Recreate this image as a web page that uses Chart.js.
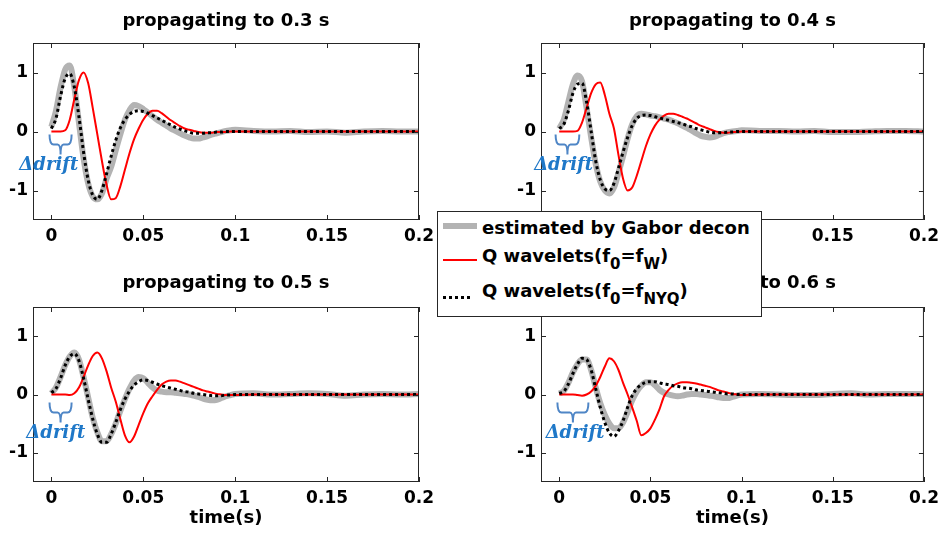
<!DOCTYPE html>
<html>
<head>
<meta charset="utf-8">
<script src="https://cdn.jsdelivr.net/npm/chart.js@4.4.1/dist/chart.umd.min.js"></script>
<style>
  body { margin: 0; background: #fff; width: 945px; height: 533px; position: relative; overflow: hidden; font-family: "DejaVu Sans", sans-serif; }
  canvas { position: absolute; }
  #legend { position: absolute; left: 437px; top: 211px; width: 323px; height: 104px; border: 1px solid #262626; background: #fff; z-index: 5; }
  #legend .txt { position: absolute; left: 44px; font-weight: bold; font-size: 18px; line-height: 22px; color: #000; white-space: nowrap; }
  #legend sub { font-size: 15px; vertical-align: -7px; line-height: 0; }
  #legend .sw { position: absolute; left: 5px; width: 34px; }
</style>
</head>
<body>
<canvas id="c1" width="470" height="260" style="left:0;top:0"></canvas>
<canvas id="c2" width="475" height="260" style="left:470px;top:0"></canvas>
<canvas id="c3" width="470" height="273" style="left:0;top:260px"></canvas>
<canvas id="c4" width="475" height="273" style="left:470px;top:260px"></canvas>
<div id="legend">
  <div class="sw" style="top:11px;height:6px;background:#b3b3b3"></div>
  <div class="txt" style="top:5px">estimated by Gabor decon</div>
  <div class="sw" style="top:47px;height:2px;background:#ff0000"></div>
  <div class="txt" style="top:33px">Q wavelets(f<sub>0</sub>=f<sub>W</sub>)</div>
  <div class="sw" style="top:84px;height:3px;width:30px;background:repeating-linear-gradient(to right,#000 0 3px,transparent 3px 6px)"></div>
  <div class="txt" style="top:68px">Q wavelets(f<sub>0</sub>=f<sub>NYQ</sub>)</div>
</div>
<script>
// sample times (s): fine up to 0.1, coarse after
const time = [0, 0.0025, 0.005, 0.0075, 0.01, 0.0125, 0.015, 0.0175, 0.02, 0.0225,
  0.025, 0.0275, 0.03, 0.0325, 0.035, 0.0375, 0.04, 0.0425, 0.045, 0.0475,
  0.05, 0.0525, 0.055, 0.0575, 0.06, 0.0625, 0.065, 0.0675, 0.07, 0.0725,
  0.075, 0.0775, 0.08, 0.0825, 0.085, 0.0875, 0.09, 0.0925, 0.095, 0.0975,
  0.1, 0.11, 0.12, 0.13, 0.14, 0.15, 0.16, 0.17, 0.18, 0.19, 0.2];
const xTicks = [0, 0.05, 0.1, 0.15, 0.2];
const yTicks = [-1, 0, 1];
const titles = ['propagating to 0.3 s', 'propagating to 0.4 s', 'propagating to 0.5 s', 'propagating to 0.6 s'];
const seriesNames = ['estimated by Gabor decon', 'Q wavelets(f0=fW)', 'Q wavelets(f0=fNYQ)'];

// 0.3 s
const gabor03 = [0.08, 0.35, 0.75, 1.05, 1.12, 0.75, 0.15, -0.45, -0.88, -1.1, -1.15, -1.05, -0.8, -0.6, -0.32, -0.05, 0.2, 0.36, 0.45, 0.43, 0.38, 0.32, 0.26, 0.2, 0.15, 0.1, 0.05, 0.01, -0.03, -0.07, -0.1, -0.12, -0.12, -0.1, -0.08, -0.05, -0.03, -0.01, 0.01, 0.02, 0.03, 0.01, 0, 0.01, -0.01, 0, -0.02, 0, 0.01, 0, 0];
const qw03 = [0, 0, 0, 0.02, 0.2, 0.55, 0.87, 1.0, 0.82, 0.4, -0.05, -0.5, -0.9, -1.15, -1.13, -0.93, -0.65, -0.37, -0.13, 0.05, 0.2, 0.3, 0.35, 0.35, 0.31, 0.25, 0.19, 0.14, 0.09, 0.05, 0.03, 0.01, -0.01, -0.02, -0.02, -0.02, -0.01, -0.01, -0.01, 0, 0, 0, 0, 0, 0, 0, 0, 0, 0, 0, 0];
const qnyq03 = [0.05, 0.22, 0.6, 0.9, 0.98, 0.75, 0.25, -0.35, -0.82, -1.08, -1.15, -1.0, -0.72, -0.42, -0.15, 0.06, 0.2, 0.29, 0.34, 0.35, 0.34, 0.31, 0.27, 0.23, 0.19, 0.15, 0.11, 0.07, 0.04, 0.01, -0.01, -0.03, -0.03, -0.03, -0.02, -0.02, -0.01, -0.01, 0, 0, 0, 0, 0, 0, 0, 0, 0, 0, 0, 0, 0];
// 0.4 s
const gabor04 = [0.05, 0.2, 0.5, 0.8, 0.95, 0.85, 0.4, -0.1, -0.55, -0.85, -1.0, -1.05, -0.95, -0.7, -0.42, -0.12, 0.12, 0.26, 0.3, 0.29, 0.27, 0.26, 0.24, 0.22, 0.2, 0.17, 0.14, 0.1, 0.06, 0.02, -0.03, -0.07, -0.09, -0.1, -0.09, -0.06, -0.03, -0.01, 0, 0.01, 0.02, 0.01, 0.01, 0, 0.01, -0.01, -0.01, 0, 0.01, 0.01, 0];
const qw04 = [0, 0, 0, 0, 0.01, 0.15, 0.4, 0.65, 0.8, 0.83, 0.62, 0.3, 0.05, -0.4, -0.8, -1.0, -0.95, -0.75, -0.5, -0.25, -0.05, 0.1, 0.2, 0.27, 0.3, 0.3, 0.28, 0.25, 0.22, 0.18, 0.14, 0.1, 0.07, 0.04, 0.01, -0.01, -0.02, -0.02, -0.01, -0.01, 0, 0, 0, 0, 0, 0, 0, 0, 0, 0, 0];
const qnyq04 = [0.05, 0.12, 0.35, 0.65, 0.8, 0.82, 0.5, 0, -0.5, -0.82, -0.97, -1.0, -0.88, -0.62, -0.35, -0.1, 0.1, 0.22, 0.27, 0.28, 0.27, 0.25, 0.23, 0.21, 0.19, 0.17, 0.15, 0.13, 0.1, 0.08, 0.05, 0.03, 0.01, -0.01, -0.02, -0.02, -0.02, -0.01, -0.01, 0, 0, 0, 0, 0, 0, 0, 0, 0, 0, 0, 0];
// 0.5 s
const gabor05 = [0.02, 0.12, 0.3, 0.5, 0.65, 0.72, 0.6, 0.3, -0.05, -0.4, -0.65, -0.8, -0.8, -0.68, -0.5, -0.28, -0.08, 0.1, 0.24, 0.3, 0.28, 0.2, 0.12, 0.07, 0.05, 0.04, 0.04, 0.03, 0.02, 0.01, 0, -0.02, -0.04, -0.07, -0.09, -0.1, -0.09, -0.06, -0.03, -0.01, 0.01, 0.02, 0, 0.01, 0.02, 0.01, -0.02, 0, 0.01, 0, 0.01];
const qw05 = [0, 0, 0, 0, -0.01, 0.02, 0.12, 0.3, 0.5, 0.66, 0.72, 0.62, 0.4, 0.12, -0.12, -0.42, -0.7, -0.82, -0.72, -0.52, -0.32, -0.15, -0.03, 0.08, 0.17, 0.22, 0.24, 0.24, 0.22, 0.19, 0.16, 0.13, 0.1, 0.07, 0.05, 0.03, 0.01, 0, -0.01, -0.01, -0.01, 0, 0, 0, 0, 0, 0, 0, 0, 0, 0];
const qnyq05 = [0.03, 0.1, 0.28, 0.5, 0.65, 0.7, 0.58, 0.28, -0.08, -0.42, -0.68, -0.82, -0.82, -0.68, -0.48, -0.26, -0.08, 0.06, 0.16, 0.22, 0.25, 0.24, 0.21, 0.18, 0.15, 0.13, 0.11, 0.09, 0.07, 0.05, 0.04, 0.02, 0.01, 0, -0.01, -0.02, -0.02, -0.02, -0.01, -0.01, 0, 0, 0, 0, 0, 0, 0, 0, 0, 0, 0];
// 0.6 s
const gabor06 = [0.02, 0.06, 0.2, 0.38, 0.52, 0.6, 0.6, 0.42, 0.12, -0.15, -0.35, -0.5, -0.58, -0.58, -0.48, -0.3, -0.1, 0.05, 0.15, 0.21, 0.21, 0.16, 0.08, 0.03, 0, -0.02, -0.03, -0.02, 0, 0.01, 0.01, 0, -0.01, -0.02, -0.03, -0.05, -0.06, -0.06, -0.04, -0.02, 0, 0.01, 0, -0.01, -0.01, 0.01, 0.02, 0, 0.01, 0.01, 0.01];
const qw06 = [0, 0, 0, 0, -0.01, -0.02, 0, 0.05, 0.15, 0.3, 0.48, 0.62, 0.57, 0.42, 0.2, 0, -0.22, -0.45, -0.7, -0.66, -0.58, -0.43, -0.25, -0.03, 0.08, 0.15, 0.19, 0.21, 0.21, 0.2, 0.19, 0.17, 0.15, 0.13, 0.1, 0.07, 0.05, 0.03, 0.01, 0, -0.01, 0, 0, 0, 0, 0, 0, 0, 0, 0, 0];
const qnyq06 = [0.02, 0.05, 0.18, 0.36, 0.52, 0.62, 0.6, 0.42, 0.1, -0.22, -0.48, -0.66, -0.72, -0.62, -0.45, -0.22, -0.02, 0.1, 0.17, 0.21, 0.22, 0.22, 0.2, 0.18, 0.17, 0.15, 0.14, 0.12, 0.11, 0.1, 0.08, 0.07, 0.06, 0.05, 0.04, 0.03, 0.02, 0.01, 0.01, 0, 0, 0, 0, 0, 0, 0, 0, 0, 0, 0, 0];

Chart.defaults.font.family = '"DejaVu Sans", sans-serif';
Chart.defaults.font.weight = 'bold';
Chart.defaults.color = '#000';

// area = [left, top, right, bottom] of the plot box inside each canvas
const panels = [
  { id: 'c1', title: titles[0], gray: gabor03, red: qw03, black: qnyq03, area: [33, 43, 419, 220], titleTop: 11, xTitle: false,
    drift: { from: -0.001, to: 0.011, textX: -0.0014, dy: 3 } },
  { id: 'c2', title: titles[1], gray: gabor04, red: qw04, black: qnyq04, area: [71, 43, 457, 220], titleTop: 11, xTitle: false,
    drift: { from: -0.002, to: 0.011, textX: 0.0024, dy: 3 } },
  { id: 'c3', title: titles[2], gray: gabor05, red: qw05, black: qnyq05, area: [33, 47, 419, 222], titleTop: 13, xTitle: true,
    drift: { from: -0.001, to: 0.011, textX: 0.0024, dy: 8 } },
  { id: 'c4', title: titles[3], gray: gabor06, red: qw06, black: qnyq06, area: [71, 47, 457, 222], titleTop: 13, xTitle: true,
    drift: { from: -0.001, to: 0.016, textX: 0.0087, dy: 8 } }
];

// box, inward ticks and the drift brace
const framePlugin = {
  id: 'frame',
  afterDraw(chart, args, opts) {
    const { ctx, chartArea: a, scales: { x, y } } = chart;
    ctx.save();
    ctx.strokeStyle = '#262626';
    ctx.lineWidth = 1;
    ctx.strokeRect(a.left + 0.5, a.top + 0.5, a.right - a.left - 1, a.bottom - a.top - 1);
    ctx.beginPath();
    xTicks.forEach(v => {
      const px = Math.round(x.getPixelForValue(v)) + 0.5;
      ctx.moveTo(px, a.bottom); ctx.lineTo(px, a.bottom - 5);
      ctx.moveTo(px, a.top); ctx.lineTo(px, a.top + 5);
    });
    yTicks.forEach(v => {
      const py = Math.round(y.getPixelForValue(v)) + 0.5;
      ctx.moveTo(a.left, py); ctx.lineTo(a.left + 5, py);
      ctx.moveTo(a.right, py); ctx.lineTo(a.right - 5, py);
    });
    ctx.stroke();

    const d = opts.drift;
    if (d) {
      const x0 = x.getPixelForValue(d.from), x1 = x.getPixelForValue(d.to), xc = (x0 + x1) / 2;
      const y0 = y.getPixelForValue(0) + d.dy, ym = y0 + 10, yb = y0 + 20;
      ctx.strokeStyle = '#4f86c6';
      ctx.lineWidth = 2;
      ctx.beginPath();
      ctx.moveTo(x0, y0);
      ctx.quadraticCurveTo(x0, ym, x0 + 4, ym);
      ctx.lineTo(xc - 3, ym);
      ctx.quadraticCurveTo(xc, ym, xc, yb);
      ctx.quadraticCurveTo(xc, ym, xc + 3, ym);
      ctx.lineTo(x1 - 4, ym);
      ctx.quadraticCurveTo(x1, ym, x1, y0);
      ctx.stroke();
      ctx.fillStyle = '#1f78c8';
      ctx.font = 'italic bold 18px "DejaVu Serif"';
      ctx.textAlign = 'center';
      ctx.textBaseline = 'middle';
      ctx.fillText('\u0394drift', x.getPixelForValue(d.textX), y0 + 31);
    }
    ctx.restore();
  }
};

panels.forEach(p => {
  const canvas = document.getElementById(p.id);
  const [left, top, right, bottom] = p.area;
  const pts = vals => time.map((t, i) => ({ x: t, y: vals[i] }));
  new Chart(canvas, {
    type: 'line',
    data: {
      datasets: [
        { label: seriesNames[0], data: pts(p.gray), borderColor: '#b3b3b3', borderWidth: 6, order: 3 },
        { label: seriesNames[1], data: pts(p.red), borderColor: '#ff0000', borderWidth: 2, order: 2 },
        { label: seriesNames[2], data: pts(p.black), borderColor: '#000000', borderWidth: 3, borderDash: [3, 3], borderCapStyle: 'butt', order: 1 }
      ]
    },
    options: {
      responsive: false,
      animation: false,
      events: [],
      elements: { point: { radius: 0 }, line: { cubicInterpolationMode: 'monotone' } },
      layout: { padding: { left: 0, top: 0, right: canvas.width - right, bottom: 0 } },
      plugins: {
        legend: { display: false },
        tooltip: { enabled: false },
        title: { display: true, fullSize: false, text: p.title, font: { size: 18, weight: 'bold' }, color: '#000',
                 padding: { top: p.titleTop, bottom: top - p.titleTop - 21.6 } },
        frame: { drift: p.drift }
      },
      scales: {
        x: {
          type: 'linear', min: -0.01, max: 0.2,
          grid: { display: false, drawTicks: false }, border: { display: false },
          afterBuildTicks: s => { s.ticks = xTicks.map(v => ({ value: v })); },
          afterFit: s => { s.height = canvas.height - bottom; },
          ticks: { padding: 6, font: { size: 17, weight: 'bold' }, color: '#000', maxRotation: 0, callback: v => String(v) },
          title: { display: p.xTitle, text: 'time(s)', font: { size: 18, weight: 'bold' }, color: '#000', padding: { top: 0, bottom: 4 } }
        },
        y: {
          min: -1.5, max: 1.5,
          grid: { display: false, drawTicks: false }, border: { display: false },
          afterBuildTicks: s => { s.ticks = yTicks.map(v => ({ value: v })); },
          afterFit: s => { s.width = left; },
          ticks: { padding: 5, font: { size: 17, weight: 'bold' }, color: '#000', callback: v => String(v) }
        }
      }
    },
    plugins: [framePlugin]
  });
});
</script>
</body>
</html>
